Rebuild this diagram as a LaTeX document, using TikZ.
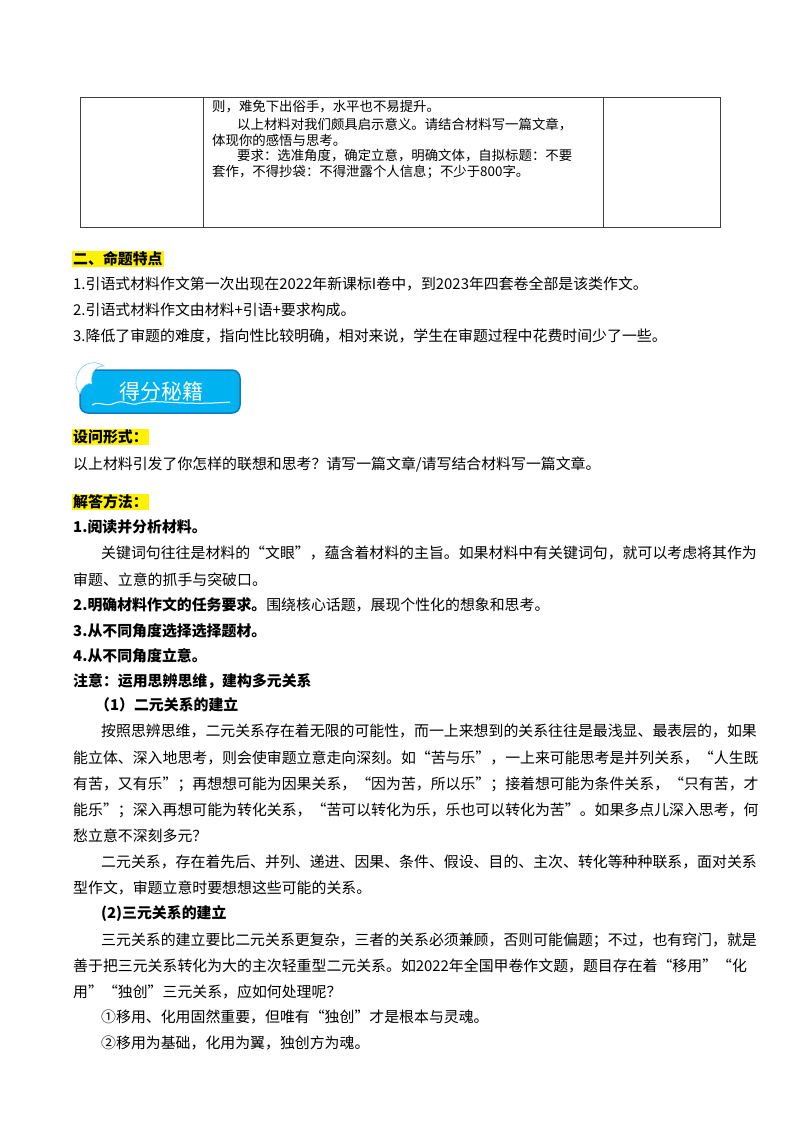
\documentclass[tikz,border=0pt]{standalone}
\usepackage{fontspec}
\setmainfont{Noto Sans CJK SC}
\begin{document}
\begin{tikzpicture}[x=1pt,y=-1pt,
  tl/.style={anchor=west,inner sep=0pt,font=\fontsize{14.9}{16}\selectfont},
  tt/.style={anchor=west,inner sep=0pt,font=\fontsize{13.4}{15}\selectfont},
  hl/.style={anchor=west,inner sep=1pt,fill=yellow,font=\fontsize{14.9}{16}\selectfont\bfseries}]
\useasboundingbox[fill=white] (0,0) rectangle (800,1132);
% table
\draw[line width=0.8pt,black!75] (80,97) rectangle (720,227);
\draw[line width=0.8pt,black!75] (203,97) -- (203,227) (603,97) -- (603,227);
\node[tt] (t1) at (212,107) {则，难免下出俗手，水平也不易提升。};
\node[tt] (t2) at (237,124) {以上材料对我们颇具启示意义。请结合材料写一篇文章，};
\node[tt] (t3) at (212,140) {体现你的感悟与思考。};
\node[tt] (t4) at (237,156) {要求：选准角度，确定立意，明确文体，自拟标题：不要};
\node[tt] (t5) at (212,172) {套作，不得抄袋：不得泄露个人信息；不少于800字。};
% section 2
\node[hl] (h1) at (72,259) {二、命题特点};
\node[tl] (a1) at (73,284) {1.引语式材料作文第一次出现在2022年新课标I卷中，到2023年四套卷全部是该类作文。};
\node[tl] (a2) at (73,310) {2.引语式材料作文由材料+引语+要求构成。};
\node[tl] (a3) at (73,336) {3.降低了审题的难度，指向性比较明确，相对来说，学生在审题过程中花费时间少了一些。};
% banner
\draw[line width=1.5pt,draw={rgb,255:red,20;green,120;blue,190},fill={rgb,255:red,0;green,178;blue,240},rounded corners=8pt] (80,370) rectangle (240,413);
\draw[white,line width=1pt] (92,405) .. controls (100,400) and (105,408) .. (115,403) .. controls (125,399) and (130,407) .. (140,403) .. controls (160,399) and (180,406) .. (230,402);
\fill[white,draw={rgb,255:red,120;green,200;blue,235},line width=0.6pt] (76,380) .. controls (78,365) and (92,358) .. (104,366) .. controls (96,366) and (90,372) .. (92,384) .. controls (88,382) and (82,386) .. (80,394) .. controls (77,390) and (75,385) .. (76,380) -- cycle;
\node[anchor=center,inner sep=0pt,text=white,font=\fontsize{21}{22}\selectfont] (bn) at (161,391) {得分秘籍};
% questions
\node[hl] (h2) at (72,437) {设问形式：};
\node[tl] (q1) at (73,464) {以上材料引发了你怎样的联想和思考？请写一篇文章/请写结合材料写一篇文章。};
\node[hl] (h3) at (72,502) {解答方法：};
\node[tl,font=\fontsize{14.9}{16}\selectfont\bfseries] (m1) at (73,527) {1.阅读并分析材料。};
\node[tl] (p1) at (101,553) {关键词句往往是材料的“文眼”，蕴含着材料的主旨。如果材料中有关键词句，就可以考虑将其作为};
\node[tl] (p2) at (73,580) {审题、立意的抓手与突破口。};
\node[tl] (m2) at (73,605) {\bfseries 2.明确材料作文的任务要求。\mdseries 围绕核心话题，展现个性化的想象和思考。};
\node[tl,font=\fontsize{14.9}{16}\selectfont\bfseries] (m3) at (73,631) {3.从不同角度选择选择题材。};
\node[tl,font=\fontsize{14.9}{16}\selectfont\bfseries] (m4) at (73,656) {4.从不同角度立意。};
\node[tl,font=\fontsize{14.9}{16}\selectfont\bfseries] (m5) at (73,681) {注意：运用思辨思维，建构多元关系};
\node[tl,font=\fontsize{14.9}{16}\selectfont\bfseries] (s1) at (95,705) {（1）二元关系的建立};
\node[tl] (b1) at (101,731) {按照思辨思维，二元关系存在着无限的可能性，而一上来想到的关系往往是最浅显、最表层的，如果};
\node[tl] (b2) at (73,758) {能立体、深入地思考，则会使审题立意走向深刻。如“苦与乐”，一上来可能思考是并列关系，“人生既};
\node[tl] (b3) at (73,784) {有苦，又有乐”；再想想可能为因果关系，“因为苦，所以乐”；接着想可能为条件关系，“只有苦，才};
\node[tl] (b4) at (73,810) {能乐”；深入再想可能为转化关系，“苦可以转化为乐，乐也可以转化为苦”。如果多点儿深入思考，何};
\node[tl] (b5) at (73,836) {愁立意不深刻多元？};
\node[tl] (c1) at (101,862) {二元关系，存在着先后、并列、递进、因果、条件、假设、目的、主次、转化等种种联系，面对关系};
\node[tl] (c2) at (73,888) {型作文，审题立意时要想想这些可能的关系。};
\node[tl,font=\fontsize{14.9}{16}\selectfont\bfseries] (s2) at (101,914) {(2)三元关系的建立};
\node[tl] (d1) at (101,940) {三元关系的建立要比二元关系更复杂，三者的关系必须兼顾，否则可能偏题；不过，也有窍门，就是};
\node[tl] (d2) at (73,966) {善于把三元关系转化为大的主次轻重型二元关系。如2022年全国甲卷作文题，题目存在着“移用”“化};
\node[tl] (d3) at (73,992) {用”“独创”三元关系，应如何处理呢？};
\node[tl] (e1) at (101,1017) {①移用、化用固然重要，但唯有“独创”才是根本与灵魂。};
\node[tl] (e2) at (101,1043) {②移用为基础，化用为翼，独创方为魂。};
\end{tikzpicture}
\end{document}
